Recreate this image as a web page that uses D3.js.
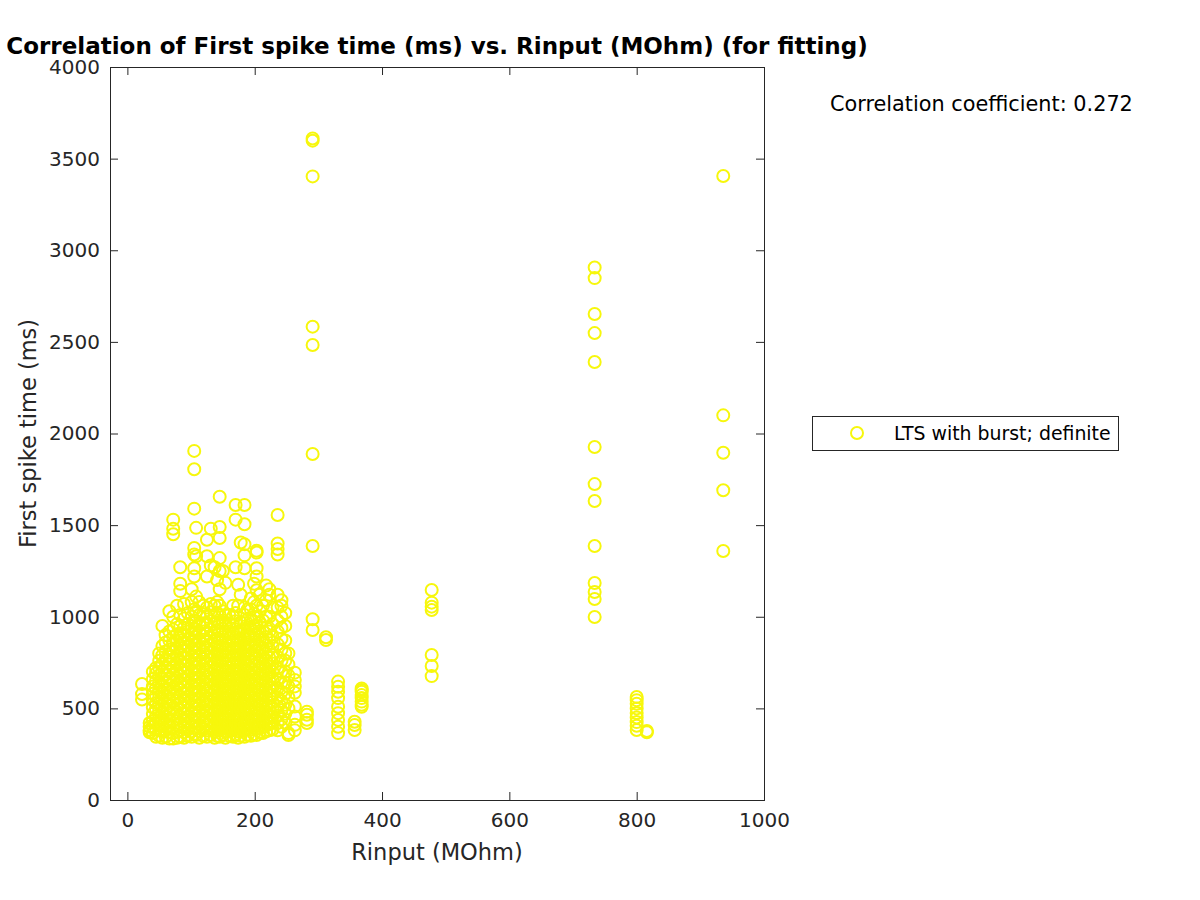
<!DOCTYPE html>
<html>
<head>
<meta charset="utf-8">
<script src="https://cdn.jsdelivr.net/npm/d3@7"></script>
<style>
  body { margin: 0; background: #fff; }
  text { font-family: "DejaVu Sans", sans-serif; }
</style>
</head>
<body>
<script>
// Rinput (MOhm) of each cell, and the first spike times (ms) of its sweeps
var cellRinput = [23, 35, 40, 45, 50, 55, 60, 66, 72, 78, 83, 89, 95, 101, 105, 108, 113, 119, 125, 131,
  137, 141, 145, 150, 154, 160, 166, 170, 174, 178, 184, 189, 194, 199, 203, 208, 213, 218, 223, 228,
  236, 242, 248, 253, 263, 282, 291, 312, 331, 357, 368, 478, 734, 800, 816, 936];

var cellSpikeTimes = [
  [548, 578, 633],
  [370, 382, 400, 420],
  [365, 398, 430, 470, 505, 545, 580, 620, 660, 700],
  [345, 385, 420, 455, 495, 530, 570, 610, 650, 690, 720],
  [350, 380, 415, 450, 490, 525, 560, 600, 640, 680, 720, 760, 800],
  [340, 375, 410, 445, 480, 515, 555, 590, 625, 665, 705, 745, 790, 840, 950],
  [345, 380, 420, 455, 495, 530, 570, 605, 645, 685, 725, 770, 810, 860, 900],
  [335, 370, 405, 440, 475, 515, 550, 585, 625, 660, 700, 740, 780, 820, 870, 920, 1030],
  [335, 365, 400, 435, 470, 505, 545, 580, 615, 655, 690, 730, 770, 810, 850, 890, 930, 1000, 1450, 1480, 1530],
  [340, 375, 410, 445, 480, 520, 555, 590, 630, 665, 705, 745, 785, 825, 865, 905, 960, 1060],
  [345, 380, 415, 450, 490, 525, 560, 600, 635, 675, 710, 750, 790, 830, 870, 910, 950, 1010, 1140, 1180, 1270],
  [340, 370, 405, 440, 475, 510, 550, 585, 620, 660, 695, 735, 775, 815, 855, 900, 940, 990, 1070],
  [350, 385, 420, 455, 490, 530, 565, 600, 640, 675, 715, 755, 795, 835, 875, 920, 960, 1020],
  [345, 375, 410, 445, 480, 520, 555, 590, 630, 665, 705, 745, 785, 825, 865, 905, 950, 1000, 1080, 1150],
  [360, 395, 430, 470, 505, 540, 580, 615, 655, 690, 730, 770, 810, 850, 890, 935, 980, 1040, 1220, 1265, 1340, 1375, 1590, 1805, 1905],
  [355, 390, 425, 460, 500, 535, 575, 610, 650, 685, 725, 765, 805, 845, 890, 930, 975, 1030, 1110, 1330, 1485],
  [340, 375, 410, 445, 485, 520, 560, 595, 635, 670, 710, 750, 790, 830, 870, 915, 960, 1010, 1080],
  [350, 385, 420, 455, 490, 530, 565, 605, 640, 680, 715, 755, 795, 835, 875, 920, 965, 1015, 1060],
  [345, 380, 415, 450, 490, 525, 560, 600, 635, 675, 710, 750, 790, 830, 870, 910, 955, 1000, 1050, 1220, 1330, 1420],
  [355, 390, 425, 465, 500, 535, 575, 610, 650, 690, 725, 765, 805, 845, 885, 930, 975, 1025, 1070, 1280, 1480],
  [340, 375, 410, 450, 485, 520, 560, 595, 635, 670, 710, 750, 790, 830, 870, 915, 960, 1005, 1060, 1270],
  [350, 385, 420, 455, 495, 530, 570, 605, 645, 680, 720, 760, 800, 840, 880, 925, 970, 1020, 1080, 1200],
  [345, 380, 415, 450, 490, 525, 565, 600, 640, 675, 715, 755, 795, 835, 875, 920, 965, 1010, 1060, 1150, 1250, 1320, 1430, 1490, 1655],
  [355, 390, 425, 460, 500, 535, 575, 610, 650, 685, 725, 765, 805, 845, 890, 935, 980, 1030, 1250],
  [340, 375, 410, 445, 485, 520, 560, 595, 635, 670, 710, 750, 790, 830, 870, 915, 960, 1010, 1185],
  [350, 385, 420, 455, 495, 530, 570, 605, 645, 680, 720, 760, 800, 840, 880, 920, 965, 1010],
  [345, 380, 415, 450, 490, 525, 560, 600, 635, 675, 710, 750, 790, 830, 870, 910, 955, 1000, 1060],
  [355, 390, 425, 460, 500, 535, 575, 610, 650, 685, 725, 765, 805, 845, 885, 930, 975, 1020, 1270, 1530, 1610],
  [340, 375, 410, 445, 485, 520, 560, 595, 635, 670, 710, 750, 790, 830, 870, 915, 1060, 1175],
  [350, 385, 420, 460, 495, 530, 570, 605, 645, 680, 720, 760, 800, 840, 880, 925, 970, 1120, 1405],
  [345, 380, 415, 450, 490, 525, 565, 600, 640, 675, 715, 755, 795, 835, 880, 920, 965, 1010, 1050, 1265, 1335, 1395, 1505, 1610],
  [355, 390, 425, 465, 500, 540, 575, 615, 650, 690, 730, 770, 810, 850, 895, 940, 985, 1040],
  [350, 385, 420, 455, 495, 530, 570, 605, 645, 685, 720, 760, 800, 845, 890, 935, 980, 1040, 1100],
  [360, 395, 430, 470, 505, 545, 580, 620, 655, 695, 735, 775, 815, 860, 905, 950, 1000, 1080, 1180],
  [355, 390, 425, 460, 500, 535, 575, 610, 650, 690, 730, 770, 810, 850, 900, 950, 1000, 1060, 1145, 1220, 1265, 1350, 1360],
  [370, 405, 440, 480, 515, 555, 590, 630, 670, 710, 750, 790, 830, 875, 920, 970, 1030, 1120],
  [365, 400, 435, 470, 510, 545, 585, 625, 665, 705, 745, 785, 830, 875, 920, 980, 1060],
  [375, 410, 445, 480, 520, 560, 600, 640, 680, 720, 760, 800, 845, 890, 940, 1000, 1090, 1170],
  [380, 415, 450, 490, 530, 570, 610, 650, 690, 730, 775, 820, 870, 920, 1000, 1120, 1150],
  [385, 420, 455, 495, 535, 575, 615, 660, 700, 745, 790, 840, 890, 960, 1050],
  [380, 420, 460, 510, 560, 610, 660, 720, 780, 850, 920, 980, 1050, 1120, 1340, 1370, 1400, 1555],
  [400, 440, 490, 540, 590, 640, 700, 760, 820, 880, 940, 1000, 1060, 1090],
  [420, 470, 520, 580, 640, 700, 760, 800, 870, 950, 1020],
  [355, 365, 500, 560, 620, 680, 740, 800],
  [380, 410, 455, 510, 585, 620, 655, 695],
  [420, 438, 465, 482],
  [928, 986, 1386, 1888, 2483, 2583, 3403, 3598, 3610],
  [873, 888],
  [365, 400, 437, 474, 509, 556, 591, 618, 646],
  [382, 409, 427],
  [509, 520, 537, 556, 573, 591, 600, 609],
  [676, 731, 791, 1037, 1055, 1077, 1146],
  [999, 1097, 1135, 1184, 1386, 1632, 1724, 1926, 2390, 2548, 2652, 2848, 2906],
  [382, 405, 425, 450, 475, 500, 525, 545, 562],
  [370, 377],
  [1359, 1690, 1895, 2099, 3405]
];

var xTicks = [0, 200, 400, 600, 800, 1000];
var yTicks = [0, 500, 1000, 1500, 2000, 2500, 3000, 3500, 4000];
var seriesName = "LTS with burst; definite";
var corrCoef = 0.272;

var svgWidth = 1200;
var svgHeight = 900;
var margin = { top: 67, right: 436, bottom: 100, left: 110 };
var chartWidth = svgWidth - margin.left - margin.right;
var chartHeight = svgHeight - margin.top - margin.bottom;

var axisColor = "#262626";
var markerColor = "#f7f70c";

var svg = d3.select("body")
  .append("svg")
  .attr("width", svgWidth)
  .attr("height", svgHeight);

var points = cellRinput.flatMap((r, i) => cellSpikeTimes[i].map(t => ({ x: r, y: t })));

var xScale = d3.scaleLinear().domain([-27.3, 1000]).range([0, chartWidth]);
var yScale = d3.scaleLinear().domain([0, 4000]).range([chartHeight, 0]);

var chartGroup = svg.append("g")
  .attr("transform", `translate(${margin.left}, ${margin.top})`);

// markers
chartGroup.append("g")
  .selectAll("circle")
  .data(points)
  .enter()
  .append("circle")
  .attr("cx", d => xScale(d.x))
  .attr("cy", d => yScale(d.y))
  .attr("r", 6)
  .attr("fill", "none")
  .attr("stroke", markerColor)
  .attr("stroke-width", 2);

// axes, ticks pointing inwards, mirrored on top/right
function styleAxis(g) {
  g.select(".domain").remove();
  g.selectAll(".tick line").attr("stroke", axisColor);
  g.selectAll(".tick text").attr("fill", axisColor).attr("font-size", "20px")
    .attr("font-family", "DejaVu Sans, sans-serif");
}

var fmt = d3.format("d");

chartGroup.append("g")
  .attr("transform", `translate(0, ${chartHeight})`)
  .call(d3.axisBottom(xScale).tickValues(xTicks).tickFormat(fmt).tickSizeInner(-8).tickSizeOuter(0).tickPadding(13))
  .call(styleAxis);

chartGroup.append("g")
  .call(d3.axisLeft(yScale).tickValues(yTicks).tickFormat(fmt).tickSizeInner(-8).tickSizeOuter(0).tickPadding(10))
  .call(styleAxis);

chartGroup.append("g")
  .call(d3.axisTop(xScale).tickValues(xTicks).tickSizeInner(-8).tickSizeOuter(0).tickFormat(""))
  .call(styleAxis);

chartGroup.append("g")
  .attr("transform", `translate(${chartWidth}, 0)`)
  .call(d3.axisRight(yScale).tickValues(yTicks).tickSizeInner(-8).tickSizeOuter(0).tickFormat(""))
  .call(styleAxis);

chartGroup.append("rect")
  .attr("x", 0.5).attr("y", 0.5)
  .attr("width", chartWidth).attr("height", chartHeight)
  .attr("fill", "none")
  .attr("stroke", axisColor)
  .attr("stroke-width", 1);

// labels
svg.append("text")
  .attr("x", margin.left + chartWidth / 2)
  .attr("y", 54)
  .attr("text-anchor", "middle")
  .attr("font-size", "23px")
  .attr("font-weight", "bold")
  .attr("fill", "#000")
  .text("Correlation of First spike time (ms) vs. Rinput (MOhm) (for fitting)");

svg.append("text")
  .attr("x", margin.left + chartWidth / 2)
  .attr("y", 860)
  .attr("text-anchor", "middle")
  .attr("font-size", "22.5px")
  .attr("fill", axisColor)
  .text("Rinput (MOhm)");

svg.append("text")
  .attr("transform", `translate(36, ${margin.top + chartHeight / 2}) rotate(-90)`)
  .attr("text-anchor", "middle")
  .attr("font-size", "22.5px")
  .attr("fill", axisColor)
  .text("First spike time (ms)");

svg.append("text")
  .attr("x", 830)
  .attr("y", 111)
  .attr("font-size", "20.8px")
  .attr("fill", "#000")
  .text("Correlation coefficient: " + corrCoef);

// legend
var legend = svg.append("g").attr("transform", "translate(812, 416)");
legend.append("rect")
  .attr("x", 0.5).attr("y", 0.5)
  .attr("width", 306).attr("height", 34)
  .attr("fill", "#fff")
  .attr("stroke", axisColor)
  .attr("stroke-width", 1);
legend.append("circle")
  .attr("cx", 45).attr("cy", 17)
  .attr("r", 6)
  .attr("fill", "none")
  .attr("stroke", markerColor)
  .attr("stroke-width", 2);
legend.append("text")
  .attr("x", 82).attr("y", 24)
  .attr("font-size", "18.9px")
  .attr("fill", "#000")
  .text(seriesName);
</script>
</body>
</html>
